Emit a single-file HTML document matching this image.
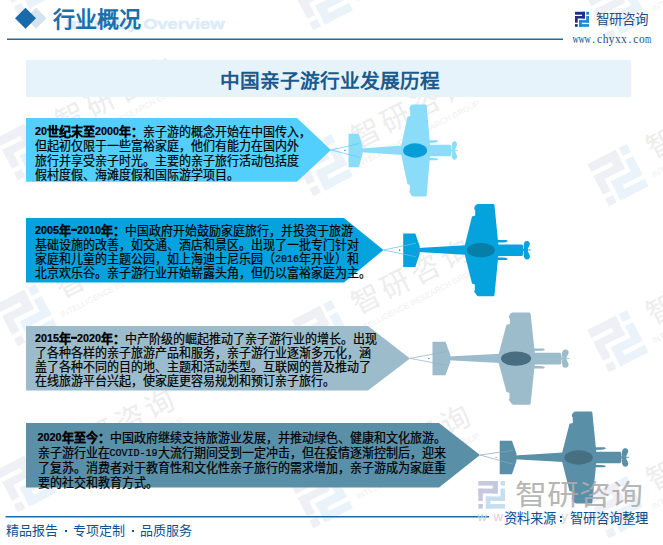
<!DOCTYPE html>
<html lang="zh-CN"><head><meta charset="utf-8">
<style>
html,body{margin:0;padding:0;}
body{width:663px;height:545px;position:relative;overflow:hidden;background:#fff;font-family:"Liberation Sans",sans-serif;}
.abs{position:absolute;white-space:nowrap;}
svg{position:absolute;left:0;top:0;}
.txt{position:absolute;font-size:12px;line-height:14px;color:#000;white-space:nowrap;}
.txt b{font-weight:bold;}
.row{white-space:nowrap;-webkit-text-stroke:0.2px #000;transform:scaleY(1.08);transform-origin:0 8px;}
.d{font-size:10.8px;position:relative;top:-1px;}
.h{display:inline-block;width:5.4px;height:1.6px;margin:0 0.3px;background:#000;vertical-align:4px;}
.m{font-family:"Liberation Mono",monospace;font-size:10px;letter-spacing:0;position:relative;top:-1px;}
.ft{top:520px;font-size:13px;color:#0c5197;}
</style></head><body>
<svg width="663" height="545" viewBox="0 0 663 545">
  <defs>
    <g id="plane">
      <path d="M0.2,-16.6 L12.3,-16.6 L16.7,-3.8 L16.7,3.8 L12.3,16.9 L0.2,16.9 Z"/>
      <path d="M15,-1.9 L63,-4.7 L63,4.7 L15,1.9 Z"/>
      <path d="M75,-45.9 L90.2,-45.9 Q91.4,-45.9 91.5,-44.5 L95.3,-6 L95.3,6 L91.5,44.8 Q91.4,46.3 90.2,46.3 L75.5,46.3 Q73.8,46.3 73.2,44.5 L71,41.2 L71.8,40.6 L71.8,34.6 L69,33.6 L60.6,0 L69,-33.6 L72.2,-34.4 L72.2,-39.5 L71.3,-41 L71.3,-42.2 Q72.5,-45.9 75,-45.9 Z"/>
      <path d="M93,-5.6 L118.5,-5.6 Q120.2,-5.6 120.2,-3.5 L120.2,3.8 Q120.2,6 118.5,6 L93,6 Z"/>
      <path d="M93,-10 L103.5,-10 Q105.2,-9.3 104.5,-8.5 Q103,-7.6 100,-7.6 L93,-7.4 Z"/>
      <path d="M93,7.4 L100,7.6 Q103,7.6 104.5,8.5 Q105.2,9.3 103.5,10 L93,10 Z"/>
      <path d="M121,-0.8 C120.4,-4 120.4,-8.8 123.5,-9 C126.5,-9.2 127.6,-6.5 126.3,-4 L124.5,-0.8 Z"/>
      <path d="M121,0.8 C120.4,4 120.4,9.2 123.5,9.4 C126.5,9.6 127.6,6.9 126.3,4.2 L124.5,0.8 Z"/>
      <rect x="120" y="-1.2" width="5" height="2.4"/>
      <rect x="124" y="-0.45" width="3.7" height="0.9"/>
    </g>
    <g id="wm">
      <g fill="#eff0f5">
        <rect x="0" y="0" width="31.7" height="8.9"/>
        <rect x="22.5" y="0" width="8.9" height="21.1"/>
        <rect x="0" y="13.4" width="31.7" height="7.7"/>
        <rect x="0" y="13.4" width="8.6" height="21.1"/>
        <rect x="0" y="39" width="8.6" height="8.4"/>
      </g>
      <g fill="#e9f3f9">
        <rect x="35.3" y="0" width="9" height="8.9"/>
        <rect x="35.3" y="13.4" width="9" height="21.1"/>
        <rect x="13" y="26.2" width="31.4" height="8.4"/>
        <rect x="13" y="26.2" width="8.9" height="21.2"/>
        <rect x="13" y="39" width="31.4" height="8.4"/>
      </g>
      <text x="60.8 94.3 127.8 161.3" y="25.5" font-size="29" fill="#ededed" font-family="Liberation Sans, sans-serif">智研咨询</text>
      <text x="53" y="42" font-size="8" fill="#efefef" font-family="Liberation Sans, sans-serif" textLength="137" lengthAdjust="spacingAndGlyphs">INTELLIGENCE RESEARCH GROUP</text>
    </g>
  </defs>
  <use href="#wm" transform="translate(-3.8,-27.9) rotate(-27)"/>
  <use href="#wm" transform="translate(-3.8,138.1) rotate(-27)"/>
  <use href="#wm" transform="translate(-3.8,304.1) rotate(-27)"/>
  <use href="#wm" transform="translate(-3.8,470.1) rotate(-27)"/>
  <use href="#wm" transform="translate(291.8,-11.9) rotate(-27)"/>
  <use href="#wm" transform="translate(291.8,154.1) rotate(-27)"/>
  <use href="#wm" transform="translate(291.8,320.1) rotate(-27)"/>
  <use href="#wm" transform="translate(291.8,486.1) rotate(-27)"/>
  <use href="#wm" transform="translate(587.4,-1.9) rotate(-27)"/>
  <use href="#wm" transform="translate(587.4,164.1) rotate(-27)"/>
  <use href="#wm" transform="translate(587.4,330.1) rotate(-27)"/>
  <use href="#wm" transform="translate(587.4,496.1) rotate(-27)"/>
  <!-- header -->
  <path d="M36,7.8 L46.5,18.3 L36,28.8 L25.5,18.3 Z" fill="#d3e3ef"/>
  <path d="M25.5,7.8 L36,18.3 L25.5,28.8 L15,18.3 Z" fill="#1a6aa9"/>
  <rect x="7" y="38.5" width="556" height="1.5" fill="#1b6aa6"/>
  <!-- logo -->
  <g fill="#1e2f86">
    <rect x="575" y="11.8" width="10" height="2.9"/>
    <rect x="582.1" y="11.8" width="2.8" height="6.7"/>
    <rect x="575" y="16" width="10" height="2.5"/>
    <rect x="575" y="16" width="2.7" height="6.7"/>
    <rect x="575" y="24.1" width="2.7" height="2.7"/>
  </g>
  <g fill="#1a8ad6">
    <rect x="586.2" y="11.8" width="2.8" height="2.9"/>
    <rect x="586.2" y="16" width="2.8" height="6.7"/>
    <rect x="579.1" y="20.1" width="9.9" height="2.6"/>
    <rect x="579.1" y="20.1" width="2.8" height="6.7"/>
    <rect x="579.1" y="24.1" width="9.9" height="2.7"/>
  </g>
  <!-- title bar -->
  <rect x="26" y="60" width="605" height="37" fill="#e6f3fb"/>
  <path d="M26,118 L297,118 L331,150 L297,181.7 L26,181.7 Z" fill="#52cffd"/>
  <g fill="#8bdcf9" transform="translate(348.3,150.3) scale(0.857,1)"><use href="#plane"/></g>
  <ellipse cx="415.06" cy="150.50" rx="12.00" ry="7.2" fill="#079dd9"/>
  <path d="M331,150 L359.4,143.5 M331,150 L359.4,157.1" stroke="#5ccbf3" stroke-width="0.7" fill="none"/>
  <rect x="344.3" y="149.8" width="1.2" height="1.2" fill="#087f9a"/>
  <path d="M26,218 L344,218 L383.5,250 L344,282.4 L26,282.4 Z" fill="#04a3dd"/>
  <g fill="#04a3dd" transform="translate(403.0,250.0) scale(1.0,1)"><use href="#plane"/></g>
  <ellipse cx="480.90" cy="250.20" rx="14.00" ry="7.2" fill="#067ea8"/>
  <path d="M383.5,250 L416.0,243.2 M383.5,250 L416.0,256.8" stroke="#5fc4ea" stroke-width="0.7" fill="none"/>
  <rect x="399.0" y="249.5" width="1.2" height="1.2" fill="#06648a"/>
  <path d="M26,326 L368,326 L410,358.4 L368,390.5 L26,390.5 Z" fill="#9dbccb"/>
  <g fill="#9dbccb" transform="translate(432.3,358.4) scale(1.075,1)"><use href="#plane"/></g>
  <ellipse cx="516.04" cy="358.60" rx="15.05" ry="7.2" fill="#4a6e81"/>
  <path d="M410,358.4 L446.3,351.6 M410,358.4 L446.3,365.2" stroke="#8fb0c0" stroke-width="0.7" fill="none"/>
  <rect x="428.3" y="357.9" width="1.2" height="1.2" fill="#4a6e81"/>
  <path d="M26,423 L439,423 L480,455 L439,487.6 L26,487.6 Z" fill="#5a8fa8"/>
  <g fill="#5a8fa8" transform="translate(499.5,457.3) scale(1.015,1)"><use href="#plane"/></g>
  <ellipse cx="578.57" cy="457.50" rx="14.21" ry="7.2" fill="#466f80"/>
  <path d="M480,455 L512.7,450.5 M480,455 L512.7,464.1" stroke="#86a9ba" stroke-width="0.7" fill="none"/>
  <rect x="495.5" y="456.8" width="1.2" height="1.2" fill="#d9a040"/>
  <!-- watermark logo bottom right -->
  <g fill="#c6c9dd">
    <rect x="478.3" y="481" width="19.6" height="4.6"/>
    <rect x="492.6" y="481" width="5.3" height="12.5"/>
    <rect x="478.3" y="488.6" width="19.6" height="4.9"/>
    <rect x="478.3" y="488.6" width="4.5" height="12.4"/>
    <rect x="478.3" y="504" width="4.5" height="4.6"/>
  </g>
  <g fill="#c5def0">
    <rect x="500.5" y="481" width="4.5" height="4.6"/>
    <rect x="500.5" y="488.6" width="4.5" height="12.4"/>
    <rect x="485.8" y="496.5" width="19.2" height="4.5"/>
    <rect x="485.8" y="496.5" width="4.6" height="12.1"/>
    <rect x="485.8" y="504" width="19.2" height="4.6"/>
  </g>
  <!-- footer line -->
  <rect x="5.5" y="516" width="483.5" height="1.5" fill="#1b6aa6"/>
  <g fill="#0f4f8f"><rect x="65" y="530" width="2" height="2"/><rect x="132" y="530" width="2" height="2"/><rect x="560" y="516" width="2" height="2"/><rect x="560" y="520" width="2" height="2"/></g>
  <g font-size="11.5" fill="#1d4f86" font-family="Liberation Serif, serif"><text x="572.40" y="42.6" textLength="6.2" lengthAdjust="spacingAndGlyphs">w</text><text x="578.44" y="42.6" textLength="6.2" lengthAdjust="spacingAndGlyphs">w</text><text x="584.48" y="42.6" textLength="6.2" lengthAdjust="spacingAndGlyphs">w</text><text x="593.62" y="42.6" text-anchor="middle">.</text><text x="599.66" y="42.6" text-anchor="middle">c</text><text x="605.70" y="42.6" text-anchor="middle">h</text><text x="611.74" y="42.6" text-anchor="middle">y</text><text x="617.78" y="42.6" text-anchor="middle">x</text><text x="623.82" y="42.6" text-anchor="middle">x</text><text x="629.86" y="42.6" text-anchor="middle">.</text><text x="635.90" y="42.6" text-anchor="middle">c</text><text x="641.94" y="42.6" text-anchor="middle">o</text><text x="644.88" y="42.6" textLength="6.2" lengthAdjust="spacingAndGlyphs">m</text></g>
</svg>
<!-- header texts -->
<div class="abs" style="left:66px;top:14px;font-size:14.4px;line-height:20px;font-weight:bold;color:#dcebf8;-webkit-text-stroke:0.5px #dcebf8;transform-origin:0 0;transform:scaleX(1.27);">Industry Overview</div>
<div class="abs" style="left:53px;top:1px;font-size:22px;font-weight:bold;color:#1b6fad;font-family:'Liberation Serif',serif;">行业概况</div>
<div class="abs" style="left:596px;top:8px;font-size:13.5px;color:#1d4f86;">智研咨询</div>


<div class="abs" style="left:220px;top:64.5px;font-size:19.7px;font-weight:bold;color:#1b5a8c;font-family:'Liberation Serif',serif;">中国亲子游行业发展历程</div>

<div class="txt" style="left:35px;top:125px;line-height:14.3px;"><div class="row" style="height:14.3px"><b><span class="d">20</span>世纪末至<span class="d">2000</span>年：</b>亲子游的概念开始在中国传入，</div><div class="row" style="height:14.3px">但起初仅限于一些富裕家庭，他们有能力在国内外</div><div class="row" style="height:14.3px">旅行并享受亲子时光。主要的亲子旅行活动包括度</div><div class="row" style="height:14.3px">假村度假、海滩度假和国际游学项目。</div></div>

<div class="txt" style="left:35px;top:223.5px;"><div class="row" style="height:14.0px"><b><span class="d">2005</span>年<span class="h"></span><span class="d">2010</span>年：</b>中国政府开始鼓励家庭旅行，并投资于旅游</div><div class="row" style="height:14.0px">基础设施的改善，如交通、酒店和景区。出现了一批专门针对</div><div class="row" style="height:14.0px">家庭和儿童的主题公园，如上海迪士尼乐园（<span class="m">2016</span>年开业）和</div><div class="row" style="height:14.0px">北京欢乐谷。亲子游行业开始崭露头角，但仍以富裕家庭为主。</div></div>

<div class="txt" style="left:35px;top:332px;"><div class="row" style="height:14.0px"><b><span class="d">2015</span>年<span class="h"></span><span class="d">2020</span>年：</b>中产阶级的崛起推动了亲子游行业的增长。出现</div><div class="row" style="height:14.0px">了各种各样的亲子旅游产品和服务，亲子游行业逐渐多元化，涵</div><div class="row" style="height:14.0px">盖了各种不同的目的地、主题和活动类型。互联网的普及推动了</div><div class="row" style="height:14.0px">在线旅游平台兴起，使家庭更容易规划和预订亲子旅行。</div></div>

<div class="txt" style="left:37.5px;top:431px;line-height:14.9px;"><div class="row" style="height:14.9px"><b><span class="d">2020</span>年至今：</b>中国政府继续支持旅游业发展，并推动绿色、健康和文化旅游。</div><div class="row" style="height:14.9px">亲子游行业在<span class="m">COVID-19</span>大流行期间受到一定冲击，但在疫情逐渐控制后，迎来</div><div class="row" style="height:14.9px">了复苏。消费者对于教育性和文化性亲子旅行的需求增加，亲子游成为家庭重</div><div class="row" style="height:14.9px">要的社交和教育方式。</div></div>

<div class="abs" style="left:477.5px;top:509px;font-size:13px;letter-spacing:6.5px;color:#d2d2d2;">www.chyxx.com</div>
<div class="abs" style="left:515px;top:474px;font-size:32px;line-height:46px;color:rgba(172,172,172,0.88);transform-origin:0 0;transform:scaleY(0.9);">智研咨询</div>

<div class="abs" style="left:504px;top:508px;font-size:13.3px;color:#0c4f92;">资料来源</div><div class="abs" style="left:570px;top:508px;font-size:13.3px;color:#0c4f92;">智研咨询整理</div>
<div class="abs ft" style="left:6px;">精品报告</div><div class="abs ft" style="left:73px;">专项定制</div><div class="abs ft" style="left:139.5px;">品质服务</div>
</body></html>
